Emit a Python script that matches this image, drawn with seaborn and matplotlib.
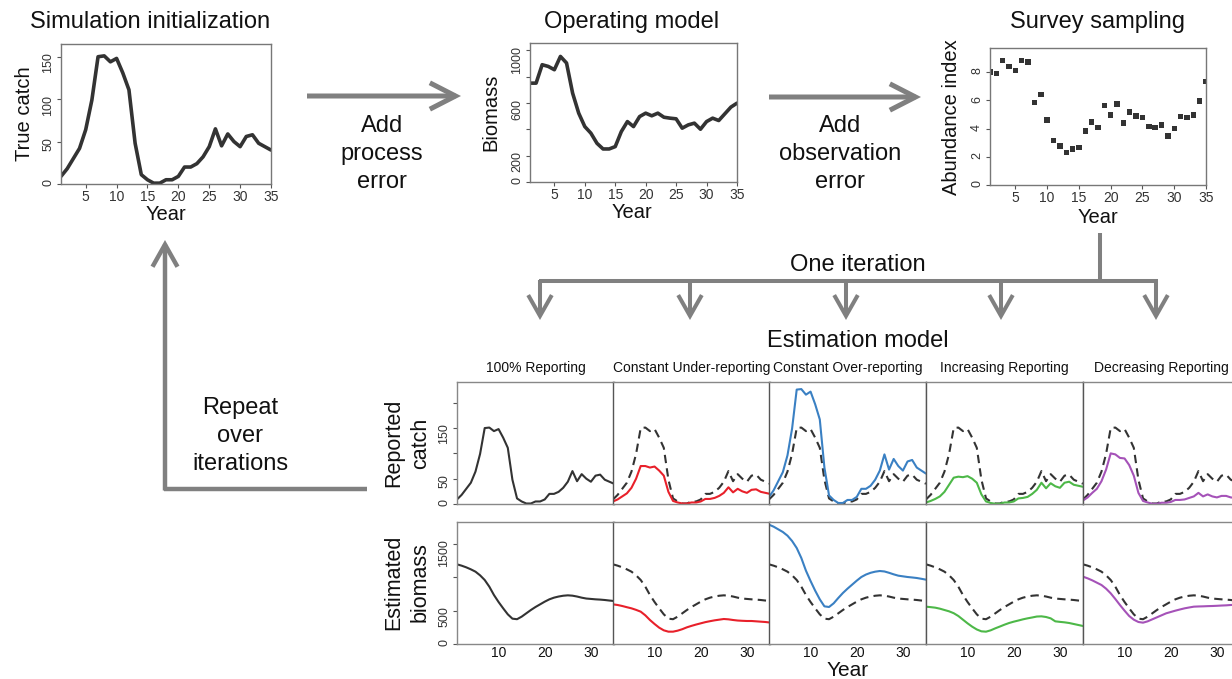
import matplotlib
matplotlib.use("Agg")
import matplotlib.pyplot as plt
from matplotlib.patches import FancyArrowPatch, ArrowStyle
import seaborn as sns

# ---------------- data ----------------
years = list(range(1, 36))

true_catch = [9, 18, 30, 42, 64, 99, 150, 151, 144, 148, 131, 111, 48, 11, 5, 1, 1, 5, 5, 9,
              20, 20, 24, 32, 44, 65, 45, 59, 50, 44, 56, 58, 48, 44, 40]

om_biomass = [751, 751, 891, 878, 853, 954, 904, 675, 523, 421, 371, 294, 251, 251, 269, 383,
              459, 421, 497, 523, 503, 523, 492, 485, 480, 409, 434, 447, 401, 459, 485, 467,
              518, 569, 599]

survey_index = [8.0, 7.9, 8.8, 8.4, 8.1, 8.8, 8.7, 5.85, 6.4, 4.6, 3.13, 2.75, 2.28, 2.56, 2.64,
                3.81, 4.47, 4.05, 5.62, 4.96, 5.74, 4.38, 5.18, 4.89, 4.78, 4.16, 4.05, 4.26,
                3.48, 3.98, 4.87, 4.78, 4.96, 5.95, 7.34]

rep_under = [5, 9, 15, 21, 32, 50, 75, 75, 72, 74, 66, 56, 24, 6, 3, 1, 1, 3, 3, 5,
             10, 10, 12, 16, 22, 33, 23, 30, 25, 22, 28, 29, 24, 22, 20]
rep_over = [14, 27, 45, 63, 96, 149, 226, 227, 216, 222, 197, 167, 72, 17, 8, 2, 2, 8, 8, 14,
            30, 30, 36, 48, 66, 98, 68, 89, 75, 66, 84, 87, 72, 66, 60]
rep_incr = [3, 6, 10, 15, 24, 38, 52, 54, 53, 55, 50, 42, 19, 5, 2, 0.5, 0.5, 3, 3, 5,
            11, 12, 14, 20, 28, 42, 31, 41, 35, 32, 42, 44, 38, 36, 34]
rep_decr = [7, 13, 22, 30, 45, 68, 100, 98, 91, 90, 77, 56, 22, 6, 3, 0.5, 0.5, 2.5, 2.5, 4,
            8, 8, 9, 12, 15, 22, 15, 19, 15, 13, 16, 16, 13, 12, 11]

est_true = [1195, 1175, 1150, 1120, 1085, 1030, 960, 860, 735, 630, 535, 445, 380, 372, 410,
            460, 510, 555, 595, 635, 670, 695, 712, 724, 730, 725, 712, 695, 682, 676, 670,
            666, 660, 652, 645]
est_under = [595, 585, 570, 552, 535, 512, 485, 430, 360, 300, 245, 205, 185, 185, 200, 222,
             250, 272, 292, 310, 328, 342, 355, 365, 375, 370, 360, 352, 348, 345, 345, 340,
             335, 330, 322]
est_over = [1790, 1760, 1720, 1680, 1625, 1545, 1440, 1290, 1100, 945, 800, 670, 565, 555, 610,
            690, 765, 830, 890, 950, 1005, 1042, 1068, 1085, 1095, 1088, 1068, 1045, 1025,
            1015, 1005, 998, 990, 978, 965]
est_incr = [560, 553, 545, 530, 510, 490, 462, 420, 365, 310, 260, 218, 190, 185, 205, 235,
            262, 290, 315, 335, 352, 370, 385, 398, 412, 415, 405, 385, 340, 332, 325, 315,
            300, 285, 270]
est_decr = [1010, 985, 955, 920, 885, 830, 760, 675, 585, 500, 420, 365, 330, 320, 340, 370,
            400, 430, 460, 480, 500, 518, 535, 548, 560, 563, 565, 568, 570, 573, 577, 580,
            585, 588, 590]

scenarios = ["100% Reporting", "Constant Under-reporting", "Constant Over-reporting",
             "Increasing Reporting", "Decreasing Reporting"]
scenario_colors = ["#333333", "#e8202a", "#3a80c3", "#4db848", "#a552b8"]
reported = [true_catch, rep_under, rep_over, rep_incr, rep_decr]
estimated = [est_true, est_under, est_over, est_incr, est_decr]

# ---------------- style ----------------
sns.set_theme(style="ticks")
plt.rcParams["font.family"] = ["Liberation Sans", "DejaVu Sans"]

W, H = 1232, 679
fig = plt.figure(figsize=(W / 100, H / 100), dpi=100)


def box(left, top, right, bottom):
    return [left / W, 1 - bottom / H, (right - left) / W, (bottom - top) / H]


# drawing layer in pixel coordinates for the flow arrows and captions
flow = fig.add_axes([0, 0, 1, 1])
flow.set_xlim(0, W)
flow.set_ylim(H, 0)
flow.axis("off")

GRAY = "#808080"
INK = "#333333"


def arrow(p0, p1, lw, hl, hw):
    flow.add_patch(FancyArrowPatch(p0, p1,
                                   arrowstyle=ArrowStyle("->", head_length=hl, head_width=hw),
                                   mutation_scale=1, lw=lw, color=GRAY,
                                   shrinkA=0, shrinkB=0, capstyle="butt", joinstyle="miter"))


def style_top(ax):
    for s in ax.spines.values():
        s.set_color("#777777")
        s.set_linewidth(1.0)
    ax.tick_params(axis="both", length=3, width=0.8, color="#555555",
                   labelcolor=INK, pad=2)
    ax.tick_params(axis="y", labelsize=9, labelrotation=90)
    ax.tick_params(axis="x", labelsize=10, pad=1.5)
    ax.set_xlim(1, 35)
    ax.set_xticks([5, 10, 15, 20, 25, 30, 35])


def place_labels(ax, xl, yl, xpos, ypos, size=14.5):
    ax.set_xlabel(xl, fontsize=size, color="#111111")
    ax.set_ylabel(yl, fontsize=size, color="#111111")
    ax.xaxis.set_label_coords(*xpos)
    ax.yaxis.set_label_coords(*ypos)
    ax.xaxis.label.set_va("center")
    ax.yaxis.label.set_va("center")


# ---------------- top row ----------------
axA = fig.add_axes(box(61, 44, 271, 184))
sns.lineplot(x=years, y=true_catch, ax=axA, color=INK, linewidth=2.6)
style_top(axA)
axA.set_ylim(0, 165)
axA.set_yticks([0, 50, 100, 150])
place_labels(axA, "Year", "True catch", (0.5, -0.22), (-0.176, 0.5))

axB = fig.add_axes(box(530, 43, 737, 182))
sns.lineplot(x=years, y=om_biomass, ax=axB, color=INK, linewidth=2.6)
style_top(axB)
axB.set_ylim(0, 1056)
axB.set_yticks([0, 200, 400, 600, 800, 1000])
axB.set_yticklabels(["0", "200", "", "600", "", "1000"])
place_labels(axB, "Year", "Biomass", (0.493, -0.223), (-0.188, 0.504))

axC = fig.add_axes(box(990, 48, 1206, 185))
sns.scatterplot(x=years, y=survey_index, ax=axC, color=INK, marker="s", s=15,
                edgecolor="none")
style_top(axC)
axC.set_ylim(0, 9.7)
axC.set_yticks([0, 2, 4, 6, 8])
place_labels(axC, "Year", "Abundance index", (0.5, -0.234), (-0.18, 0.496))

for x, y, t in [(150, 22, "Simulation initialization"), (632, 22, "Operating model"),
                (1097, 22, "Survey sampling")]:
    flow.text(x, y, t, fontsize=17, ha="center", va="center", color="#111111")

# ---------------- flow arrows ----------------
arrow((307, 96), (461, 96), 3.6, 18.5, 9.5)
arrow((769, 97), (921, 97), 3.6, 18.5, 9.5)
flow.text(382, 154, "Add\nprocess\nerror", fontsize=17, ha="center", va="center",
          linespacing=1.33, color="#111111")
flow.text(840, 154, "Add\nobservation\nerror", fontsize=17, ha="center", va="center",
          linespacing=1.33, color="#111111")

flow.plot([1100, 1100], [233, 281], color=GRAY, lw=2.9, solid_capstyle="butt")
flow.plot([538.5, 1157.5], [281, 281], color=GRAY, lw=2.9, solid_capstyle="butt")
for x in [540, 690, 846, 1001, 1156]:
    arrow((x, 280), (x, 320), 2.9, 15, 8.5)
flow.text(858, 265, "One iteration", fontsize=17, ha="center", va="center", color="#111111")
flow.text(858, 341, "Estimation model", fontsize=17, ha="center", va="center", color="#111111")

flow.plot([163.5, 367], [489, 489], color=GRAY, lw=3.2, solid_capstyle="butt")
arrow((165, 490.5), (165, 240), 3.2, 16, 9)
flow.text(240, 436, "Repeat\nover\niterations", fontsize=17, ha="center", va="center",
          linespacing=1.33, color="#111111")

# ---------------- estimation model panels ----------------
lefts = [457, 613, 769, 926, 1083]
pw = 157
dash = (0, (4, 2.5))

for i, (l, name, col, rep, est) in enumerate(zip(lefts, scenarios, scenario_colors,
                                                 reported, estimated)):
    ax_c = fig.add_axes(box(l, 382, l + pw, 504))
    ax_b = fig.add_axes(box(l, 522, l + pw, 644))
    if i > 0:
        sns.lineplot(x=years, y=true_catch, ax=ax_c, color=INK, linewidth=1.5, linestyle=dash)
        sns.lineplot(x=years, y=est_true, ax=ax_b, color=INK, linewidth=1.5, linestyle=dash)
    sns.lineplot(x=years, y=rep, ax=ax_c, color=col, linewidth=1.5)
    sns.lineplot(x=years, y=est, ax=ax_b, color=col, linewidth=1.5)

    for ax in (ax_c, ax_b):
        ax.set_xlim(1, 35)
        for s in ax.spines.values():
            s.set_color("#888888")
            s.set_linewidth(1.0)
        if i > 0:
            ax.spines["left"].set_color("#555555")
        ax.set_xlabel("")
        ax.set_ylabel("")
        ax.tick_params(axis="y", length=3, width=0.8, color="#555555", labelcolor=INK,
                       labelsize=9, labelrotation=90, pad=2)
        ax.tick_params(axis="x", length=0, labelcolor="#111111", labelsize=10, pad=1.5)
        if i > 0:
            ax.tick_params(axis="y", left=False, labelleft=False)

    ax_c.set_ylim(0, 241)
    ax_c.set_yticks([0, 50, 100, 150, 200])
    ax_c.set_yticklabels(["0", "50", "", "150", ""])
    ax_c.tick_params(axis="x", bottom=False, labelbottom=False)

    ax_b.set_ylim(0, 1830)
    ax_b.set_yticks([0, 500, 1000, 1500])
    ax_b.set_yticklabels(["0", "500", "", "1500"])
    ax_b.set_xticks([10, 20, 30])

    flow.text(l + pw / 2, 368, name, fontsize=10, ha="center", va="center", color="#111111")

flow.text(407, 443, "Reported\ncatch", fontsize=15.5, rotation=90, ha="center", va="center",
          linespacing=1.38, color="#111111")
flow.text(407, 582, "Estimated\nbiomass", fontsize=15.5, rotation=90, ha="center", va="center",
          linespacing=1.38, color="#111111")
flow.text(848, 671, "Year", fontsize=15, ha="center", va="center", color="#111111")

fig.savefig("out.png", dpi=100)
